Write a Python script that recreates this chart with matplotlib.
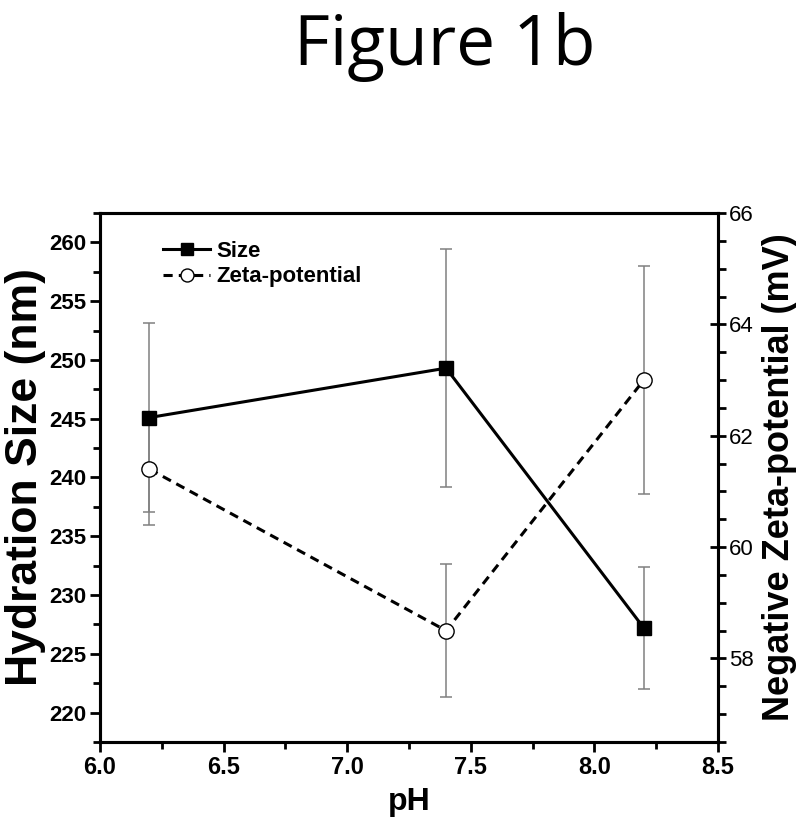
import matplotlib
matplotlib.use("Agg")
import matplotlib.pyplot as plt
from matplotlib.ticker import MultipleLocator, FormatStrFormatter, NullLocator

# data
ph = [6.2, 7.4, 8.2]
size_nm = [245.1, 249.3, 227.2]
size_err = [8.0, 10.1, 5.2]
zeta_mv = [61.4, 58.5, 63.0]
zeta_err = [1.0, 1.2, 2.05]

font = "Liberation Sans"
errc = "#808080"
size_lim = (217.5, 262.5)
zeta_lim = (56.5, 66)

fig = plt.figure(figsize=(8, 8.21), dpi=100)
ax = fig.add_axes([0.125, 0.0962, 0.7725, 0.6444])
# layers: error bars at the bottom, lines and markers on top
ax_ez = ax.twinx()
ax2 = ax.twinx()
ax_top = ax.twinx()

ax.errorbar(ph, size_nm, yerr=size_err, fmt="none", ecolor=errc,
            elinewidth=1.1, capsize=4, capthick=1.1)
ax_ez.errorbar(ph, zeta_mv, yerr=zeta_err, fmt="none", ecolor=errc,
               elinewidth=1.1, capsize=4, capthick=1.1)
hz, = ax2.plot(ph, zeta_mv, "--", color="black", lw=2.2, dashes=(3, 2),
               marker="o", ms=11, mfc="white", mec="black", mew=1,
               label="Zeta-potential")
hs, = ax_top.plot(ph, size_nm, "-", color="black", lw=2.2, marker="s",
                  ms=10, mfc="black", mec="black", label="Size")

ax.set_xlim(6.0, 8.5)
ax.set_ylim(*size_lim)
ax_top.set_ylim(*size_lim)
ax_ez.set_ylim(*zeta_lim)
ax2.set_ylim(*zeta_lim)

for a in (ax_ez, ax_top):
    a.yaxis.set_major_locator(NullLocator())
    a.yaxis.set_minor_locator(NullLocator())
    for s in a.spines.values():
        s.set_visible(False)

ax.xaxis.set_major_locator(MultipleLocator(0.5))
ax.xaxis.set_minor_locator(MultipleLocator(0.25))
ax.xaxis.set_major_formatter(FormatStrFormatter("%.1f"))
ax.yaxis.set_major_locator(MultipleLocator(5))
ax.yaxis.set_minor_locator(MultipleLocator(2.5))
ax2.yaxis.set_major_locator(MultipleLocator(2))
ax2.yaxis.set_minor_locator(MultipleLocator(0.5))

for a in (ax, ax2):
    for s in a.spines.values():
        s.set_linewidth(2.2)

ax.tick_params(axis="both", which="major", direction="out", length=7, width=2,
               top=False, right=False, pad=3)
ax.tick_params(axis="both", which="minor", direction="out", length=5, width=2,
               top=False, right=False)
ax2.tick_params(axis="y", which="major", direction="inout", length=12, width=2,
                pad=2)
ax2.tick_params(axis="y", which="minor", direction="out", length=6, width=2)

for lab in ax.get_xticklabels():
    lab.set_fontfamily(font)
    lab.set_fontweight("bold")
    lab.set_fontsize(17)
for lab in ax.get_yticklabels():
    lab.set_fontfamily(font)
    lab.set_fontweight("bold")
    lab.set_fontsize(16)
for lab in ax2.get_yticklabels():
    lab.set_fontfamily(font)
    lab.set_fontsize(16)

ax.set_xlabel("pH", fontfamily=font, fontweight="bold", fontsize=23, labelpad=6)
ax.set_ylabel("Hydration Size (nm)", fontfamily=font, fontweight="bold",
              fontsize=32)
ax.yaxis.set_label_coords(-0.088, 0.5)
ax2.set_ylabel("Negative Zeta-potential (mV)", fontfamily=font,
               fontweight="bold", fontsize=26, labelpad=6)

ax_top.legend([hs, hz], ["Size", "Zeta-potential"], loc="upper left",
              bbox_to_anchor=(0.07, 0.985), frameon=False, handlelength=2.1,
              handletextpad=0.3, labelspacing=0.2, markerscale=0.85,
              prop={"family": font, "weight": "bold", "size": 16})

fig.text(0.556, 0.943, "Figure 1b", ha="center", va="center",
         fontfamily="Open Sans", fontsize=50)

fig.savefig("out.png", dpi=100)
